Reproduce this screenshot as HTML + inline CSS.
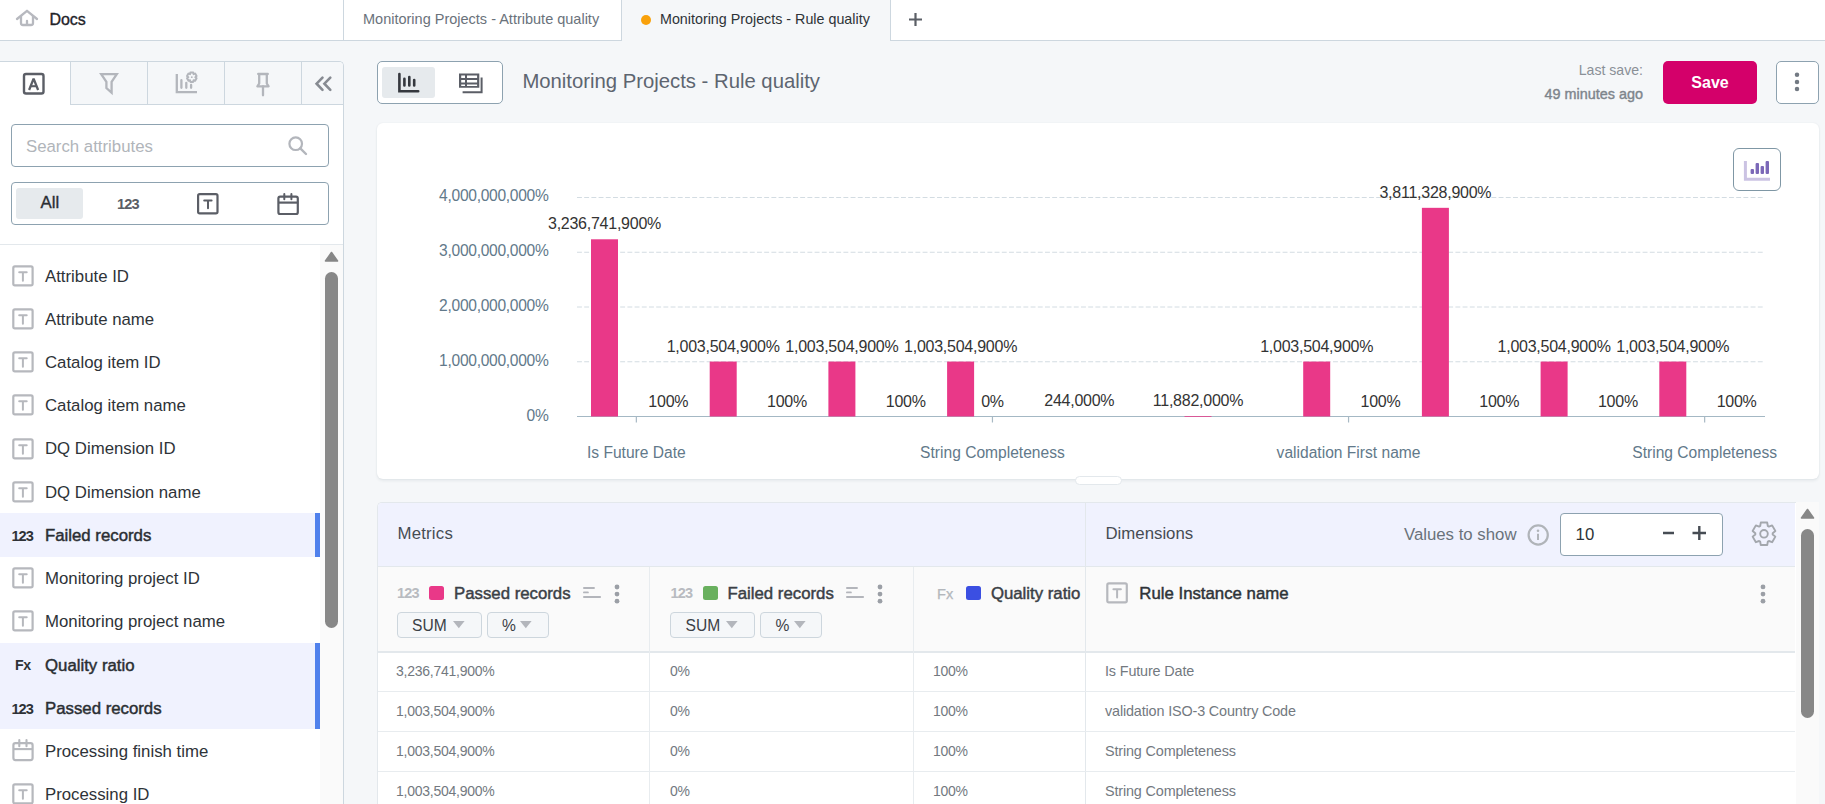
<!DOCTYPE html>
<html><head><meta charset="utf-8">
<style>
*{box-sizing:border-box;margin:0;padding:0}
html,body{width:1825px;height:804px;overflow:hidden;background:#f5f7f9;font-family:"Liberation Sans",sans-serif;position:relative}
.a{position:absolute}
.t{position:absolute;white-space:nowrap;line-height:1}
svg{position:absolute;overflow:visible}
</style></head><body>
<div class="a" style="left:0px;top:0px;width:1825px;height:41px;background:#fff;border-bottom:1px solid #cdd7df"></div>
<div class="a" style="left:343px;top:0px;width:1px;height:40px;background:#cdd7df"></div>
<div class="a" style="left:621px;top:0px;width:1px;height:40px;background:#cdd7df"></div>
<div class="a" style="left:622px;top:0px;width:268px;height:41px;background:#f5f7f9"></div>
<div class="a" style="left:890px;top:0px;width:1px;height:40px;background:#cdd7df"></div>
<svg style="left:0px;top:0px;" width="40" height="40" viewBox="0 0 40 40"><g fill="none" stroke="#b7b9bf" stroke-width="2.3" stroke-linecap="round" stroke-linejoin="round"><path d="M17 19 L27 10.8 L37 19"/><path d="M21 16.3 V23 a2 2 0 0 0 2 2 H31 a2 2 0 0 0 2 -2 V16.3"/><path d="M27 21 V24.6"/></g></svg>
<div class="t" style="left:49.4px;top:11.90px;font-size:16px;color:#1f2429;font-weight:normal;-webkit-text-stroke:0.35px #1f2429;">Docs</div>
<div class="t" style="left:363px;top:11.78px;font-size:14.5px;color:#6a727b;font-weight:normal;">Monitoring Projects - Attribute quality</div>
<div class="a" style="left:641px;top:14.6px;width:10px;height:10px;background:#f9a10b;border-radius:50%"></div>
<div class="t" style="left:660px;top:11.95px;font-size:14.3px;color:#2e3338;font-weight:normal;">Monitoring Projects - Rule quality</div>
<svg style="left:905px;top:9px;" width="21" height="21" viewBox="0 0 21 21"><path d="M10.5 4 V17 M4 10.5 H17" stroke="#5b5f66" stroke-width="2.2"/></svg>
<div class="a" style="left:0px;top:61px;width:344px;height:743px;background:#fff;border-top:1px solid #cdd7df;border-right:1px solid #cdd7df;border-top-right-radius:5px"></div>
<div class="a" style="left:70px;top:62px;width:273px;height:43px;background:#f5f7f9;border-left:1px solid #cdd7df;border-bottom:1px solid #cdd7df;border-top-right-radius:4px"></div>
<div class="a" style="left:147px;top:62px;width:1px;height:42px;background:#cdd7df"></div>
<div class="a" style="left:224px;top:62px;width:1px;height:42px;background:#cdd7df"></div>
<div class="a" style="left:301px;top:62px;width:1px;height:42px;background:#cdd7df"></div>
<svg style="left:0px;top:61px;" width="70" height="44" viewBox="0 0 70 44"><rect x="24" y="13" width="19.5" height="19.5" rx="2" fill="none" stroke="#5b5e66" stroke-width="2.4"/><path d="M29.1 29 L33.6 17.6 L38.1 29" fill="none" stroke="#5b5e66" stroke-width="2.3" stroke-linejoin="bevel"/><path d="M30.8 25.2 H36.4" stroke="#5b5e66" stroke-width="2.1"/></svg>
<svg style="left:70px;top:61px;" width="77" height="44" viewBox="0 0 77 44"><path d="M31.2 13.1 H46.8 L41.6 20.8 V31.6 L36.4 27 V20.8 Z" fill="none" stroke="#b3b6bc" stroke-width="2.3" stroke-linejoin="miter"/></svg>
<svg style="left:147px;top:61px;" width="77" height="44" viewBox="0 0 77 44"><g fill="none" stroke="#b3b6bc" stroke-width="2.3"><path d="M29.8 13 V31.2 H50"/><g stroke-linecap="round"><path d="M34.4 19.2 V26.8 M39.3 21.8 V26.8 M44.1 24 V26.8"/></g></g><polygon points="43.05,13.17 43.37,11.51 46.23,11.51 46.55,13.17 46.55,13.17 48.14,12.62 49.57,15.10 48.30,16.20 48.30,16.20 49.57,17.30 48.14,19.78 46.55,19.23 46.55,19.23 46.23,20.89 43.37,20.89 43.05,19.23 43.05,19.23 41.46,19.78 40.03,17.30 41.30,16.20 41.30,16.20 40.03,15.10 41.46,12.62 43.05,13.17" fill="none" stroke="#b3b6bc" stroke-width="2" stroke-linejoin="round"/><circle cx="44.8" cy="16.2" r="0.9" fill="#b3b6bc"/></svg>
<svg style="left:224px;top:61px;" width="77" height="44" viewBox="0 0 77 44"><g fill="none" stroke="#b3b6bc" stroke-width="2.3" stroke-linejoin="round" stroke-linecap="round"><path d="M34.2 13 H43.8 M35.2 13 V22.5 L33.4 25.3 H44.6 L42.8 22.5 V13"/><path d="M39 25.5 V34.3"/></g></svg>
<svg style="left:301px;top:61px;" width="42" height="44" viewBox="0 0 42 44"><g fill="none" stroke="#878b92" stroke-width="2.6" stroke-linecap="round" stroke-linejoin="miter"><path d="M21.5 16.6 L15.6 22.7 L21.5 28.8"/><path d="M29.3 16.6 L23.4 22.7 L29.3 28.8"/></g></svg>
<div class="a" style="left:11px;top:124px;width:318px;height:43px;background:#fff;border:1px solid #8da2b0;border-radius:4px"></div>
<div class="t" style="left:26px;top:138.52px;font-size:16.8px;color:#b1b5ba;font-weight:normal;">Search attributes</div>
<svg style="left:280px;top:130px;" width="36" height="32" viewBox="0 0 36 32"><circle cx="15.7" cy="13.7" r="6.3" fill="none" stroke="#b3b6bc" stroke-width="2.2"/><path d="M20.3 18.3 L26 24" stroke="#b3b6bc" stroke-width="2.4" stroke-linecap="round"/></svg>
<div class="a" style="left:11px;top:182px;width:318px;height:43px;background:#fff;border:1px solid #8da2b0;border-radius:4px"></div>
<div class="a" style="left:16px;top:188px;width:67px;height:31px;background:#e6eaed;border-radius:3px"></div>
<div class="t" style="left:40.5px;top:194.82px;font-size:16.8px;color:#2a2e33;font-weight:normal;-webkit-text-stroke:0.35px #2a2e33;">All</div>
<div class="t" style="left:117px;top:196.99px;font-size:14.6px;color:#5b5e66;font-weight:bold;letter-spacing:-0.9px;">123</div>
<svg style="left:197px;top:193px;" width="22" height="22" viewBox="0 0 22 22"><rect x="1.1" y="1.1" width="19.4" height="19.3" rx="1.6" fill="none" stroke="#5b5e66" stroke-width="2.2"/><path d="M7.2 7.6 H14.6 M11 7.6 V15.3" fill="none" stroke="#5b5e66" stroke-width="2" stroke-linecap="round"/></svg>
<svg style="left:277px;top:192px;" width="23" height="24" viewBox="0 0 23 24"><rect x="1.4" y="4.7" width="19.4" height="17.3" rx="1.8" fill="none" stroke="#5b5e66" stroke-width="2.2"/><path d="M1.5 10.6 H21.2" fill="none" stroke="#5b5e66" stroke-width="2.2"/><path d="M7.3 2 V7.2 M14.4 2 V7.2" fill="none" stroke="#5b5e66" stroke-width="2" stroke-linecap="round"/></svg>
<div class="a" style="left:0px;top:244px;width:343px;height:1px;background:#e3e8ec"></div>
<div class="a" style="left:320px;top:245px;width:23px;height:559px;background:#fafafa"></div>
<svg style="left:320px;top:245px;" width="23" height="30" viewBox="0 0 23 30"><path d="M11.5 7.5 L17.5 16 H5.5 Z" fill="#878787" stroke="#878787" stroke-width="1.6" stroke-linejoin="round"/></svg>
<div class="a" style="left:325px;top:272px;width:13px;height:356px;background:#878787;border-radius:6.5px"></div>
<svg style="left:12px;top:264px;" width="22" height="24" viewBox="0 0 22 24"><rect x="1.3" y="2.3" width="19.3" height="19.1" rx="1.6" fill="none" stroke="#b6b8bd" stroke-width="2.2"/><path d="M7.2 8.2 H14.7 M10.9 8.2 V16.7" fill="none" stroke="#b6b8bd" stroke-width="2" stroke-linecap="round"/></svg>
<div class="t" style="left:45px;top:268.62px;font-size:16.8px;color:#2e3338;font-weight:normal;">Attribute ID</div>
<svg style="left:12px;top:307px;" width="22" height="24" viewBox="0 0 22 24"><rect x="1.3" y="2.3" width="19.3" height="19.1" rx="1.6" fill="none" stroke="#b6b8bd" stroke-width="2.2"/><path d="M7.2 8.2 H14.7 M10.9 8.2 V16.7" fill="none" stroke="#b6b8bd" stroke-width="2" stroke-linecap="round"/></svg>
<div class="t" style="left:45px;top:311.82px;font-size:16.8px;color:#2e3338;font-weight:normal;">Attribute name</div>
<svg style="left:12px;top:350px;" width="22" height="24" viewBox="0 0 22 24"><rect x="1.3" y="2.3" width="19.3" height="19.1" rx="1.6" fill="none" stroke="#b6b8bd" stroke-width="2.2"/><path d="M7.2 8.2 H14.7 M10.9 8.2 V16.7" fill="none" stroke="#b6b8bd" stroke-width="2" stroke-linecap="round"/></svg>
<div class="t" style="left:45px;top:355.02px;font-size:16.8px;color:#2e3338;font-weight:normal;">Catalog item ID</div>
<svg style="left:12px;top:393px;" width="22" height="24" viewBox="0 0 22 24"><rect x="1.3" y="2.3" width="19.3" height="19.1" rx="1.6" fill="none" stroke="#b6b8bd" stroke-width="2.2"/><path d="M7.2 8.2 H14.7 M10.9 8.2 V16.7" fill="none" stroke="#b6b8bd" stroke-width="2" stroke-linecap="round"/></svg>
<div class="t" style="left:45px;top:398.22px;font-size:16.8px;color:#2e3338;font-weight:normal;">Catalog item name</div>
<svg style="left:12px;top:437px;" width="22" height="24" viewBox="0 0 22 24"><rect x="1.3" y="2.3" width="19.3" height="19.1" rx="1.6" fill="none" stroke="#b6b8bd" stroke-width="2.2"/><path d="M7.2 8.2 H14.7 M10.9 8.2 V16.7" fill="none" stroke="#b6b8bd" stroke-width="2" stroke-linecap="round"/></svg>
<div class="t" style="left:45px;top:441.42px;font-size:16.8px;color:#2e3338;font-weight:normal;">DQ Dimension ID</div>
<svg style="left:12px;top:480px;" width="22" height="24" viewBox="0 0 22 24"><rect x="1.3" y="2.3" width="19.3" height="19.1" rx="1.6" fill="none" stroke="#b6b8bd" stroke-width="2.2"/><path d="M7.2 8.2 H14.7 M10.9 8.2 V16.7" fill="none" stroke="#b6b8bd" stroke-width="2" stroke-linecap="round"/></svg>
<div class="t" style="left:45px;top:484.62px;font-size:16.8px;color:#2e3338;font-weight:normal;">DQ Dimension name</div>
<div class="a" style="left:0px;top:512.9px;width:315px;height:43.8px;background:#f0f2fe"></div>
<div class="a" style="left:315px;top:512.9px;width:5px;height:43.8px;background:#5081ec"></div>
<div class="t" style="left:11.4px;top:528.89px;font-size:14.6px;color:#2e3236;font-weight:bold;letter-spacing:-0.9px;">123</div>
<div class="t" style="left:45px;top:528.42px;font-size:16.8px;color:#2a2e33;font-weight:normal;-webkit-text-stroke:0.45px #2a2e33;">Failed records</div>
<svg style="left:12px;top:566px;" width="22" height="24" viewBox="0 0 22 24"><rect x="1.3" y="2.3" width="19.3" height="19.1" rx="1.6" fill="none" stroke="#b6b8bd" stroke-width="2.2"/><path d="M7.2 8.2 H14.7 M10.9 8.2 V16.7" fill="none" stroke="#b6b8bd" stroke-width="2" stroke-linecap="round"/></svg>
<div class="t" style="left:45px;top:571.02px;font-size:16.8px;color:#2e3338;font-weight:normal;">Monitoring project ID</div>
<svg style="left:12px;top:609px;" width="22" height="24" viewBox="0 0 22 24"><rect x="1.3" y="2.3" width="19.3" height="19.1" rx="1.6" fill="none" stroke="#b6b8bd" stroke-width="2.2"/><path d="M7.2 8.2 H14.7 M10.9 8.2 V16.7" fill="none" stroke="#b6b8bd" stroke-width="2" stroke-linecap="round"/></svg>
<div class="t" style="left:45px;top:614.22px;font-size:16.8px;color:#2e3338;font-weight:normal;">Monitoring project name</div>
<div class="a" style="left:0px;top:642.5px;width:315px;height:43.8px;background:#f0f2fe"></div>
<div class="a" style="left:315px;top:642.5px;width:5px;height:43.8px;background:#5081ec"></div>
<div class="t" style="left:15px;top:658.33px;font-size:14.2px;color:#2e3236;font-weight:bold;letter-spacing:-0.5px;">Fx</div>
<div class="t" style="left:45px;top:658.02px;font-size:16.8px;color:#2a2e33;font-weight:normal;-webkit-text-stroke:0.45px #2a2e33;">Quality ratio</div>
<div class="a" style="left:0px;top:685.6999999999999px;width:315px;height:43.8px;background:#f0f2fe"></div>
<div class="a" style="left:315px;top:685.6999999999999px;width:5px;height:43.8px;background:#5081ec"></div>
<div class="t" style="left:11.4px;top:701.69px;font-size:14.6px;color:#2e3236;font-weight:bold;letter-spacing:-0.9px;">123</div>
<div class="t" style="left:45px;top:701.22px;font-size:16.8px;color:#2a2e33;font-weight:normal;-webkit-text-stroke:0.45px #2a2e33;">Passed records</div>
<svg style="left:12px;top:738px;" width="22" height="24" viewBox="0 0 22 24"><rect x="1.4" y="5.2" width="19.2" height="16.9" rx="2" fill="none" stroke="#b6b8bd" stroke-width="2.2"/><path d="M1.5 11.1 H20.5" fill="none" stroke="#b6b8bd" stroke-width="2.1"/><path d="M7.3 2 V8.2 M14.5 2 V8.2" fill="none" stroke="#b6b8bd" stroke-width="2.1" stroke-linecap="round"/></svg>
<div class="t" style="left:45px;top:743.82px;font-size:16.8px;color:#2e3338;font-weight:normal;">Processing finish time</div>
<svg style="left:12px;top:782px;" width="22" height="24" viewBox="0 0 22 24"><rect x="1.3" y="2.3" width="19.3" height="19.1" rx="1.6" fill="none" stroke="#b6b8bd" stroke-width="2.2"/><path d="M7.2 8.2 H14.7 M10.9 8.2 V16.7" fill="none" stroke="#b6b8bd" stroke-width="2" stroke-linecap="round"/></svg>
<div class="t" style="left:45px;top:787.02px;font-size:16.8px;color:#2e3338;font-weight:normal;">Processing ID</div>
<div class="a" style="left:377px;top:61px;width:126px;height:43px;background:#fff;border:1px solid #8da2b0;border-radius:5px"></div>
<div class="a" style="left:382px;top:67px;width:53px;height:31px;background:#e6eaed;border-radius:3px"></div>
<svg style="left:395px;top:70px;" width="28" height="26" viewBox="0 0 28 26"><g fill="none" stroke="#35383e" stroke-width="2.6" stroke-linecap="round"><path d="M4.4 4 V21.2 H23.2"/><path d="M9.4 8.8 V15.5 M14.3 7 V15.5 M19.2 10 V15.5"/></g></svg>
<svg style="left:455px;top:70px;" width="32" height="26" viewBox="0 0 32 26"><g fill="#5b5e66"><path d="M4 3.5 H24.3 V17.8 H4 Z M6.2 5.4 V7.9 H10 V5.4 Z M12 5.4 V7.9 H22.1 V5.4 Z M6.2 9.9 V12.4 H10 V9.9 Z M12 9.9 V12.4 H22.1 V9.9 Z M6.2 14.4 V15.9 H10 V14.4 Z M12 14.4 V15.9 H22.1 V14.4 Z" fill-rule="evenodd"/><path d="M25.6 7.6 H27.6 V23.3 H7.6 V21.3 H25.6 Z"/></g></svg>
<div class="t" style="left:522.4px;top:70.64px;font-size:20.3px;color:#5d6570;font-weight:normal;">Monitoring Projects - Rule quality</div>
<div class="t" style="right:182px;top:62.72px;font-size:14.1px;color:#8a9097;font-weight:normal;">Last save:</div>
<div class="t" style="right:182px;top:87.16px;font-size:14.4px;color:#7e858c;font-weight:normal;-webkit-text-stroke:0.4px #7e858c;">49 minutes ago</div>
<div class="a" style="left:1663px;top:61px;width:94px;height:43px;background:#d4006a;border-radius:5px"></div>
<div class="t" style="left:1710px;transform:translateX(-50%);top:75.30px;font-size:16px;color:#fff;font-weight:bold;">Save</div>
<div class="a" style="left:1776px;top:61px;width:43px;height:43px;background:#fff;border:1px solid #8da2b0;border-radius:5px"></div>
<svg style="left:0;top:0" width="1825" height="804"><circle cx="1797" cy="74.7" r="2.25" fill="#737a83"/><circle cx="1797" cy="81.9" r="2.25" fill="#737a83"/><circle cx="1797" cy="89.1" r="2.25" fill="#737a83"/></svg>
<div class="a" style="left:377px;top:123px;width:1442px;height:356px;background:#fff;border-radius:6px;box-shadow:0 2px 3px rgba(31,53,74,.07), 0 0 2px rgba(31,53,74,.07)"></div>
<div class="a" style="left:1733px;top:148px;width:48px;height:43px;background:#fff;border:1.5px solid #7f97a5;border-radius:6px"></div>
<svg style="left:1733px;top:148px;" width="48" height="43" viewBox="0 0 48 43"><path d="M12.4 13 V31.3 H37" fill="none" stroke="#cbc3e3" stroke-width="3"/><g fill="#7b68b8"><rect x="17.6" y="21" width="3.4" height="5.1" rx="1"/><rect x="22.6" y="15" width="3.4" height="11.1" rx="1"/><rect x="27.6" y="18" width="3.4" height="8.1" rx="1"/><rect x="32.6" y="13" width="3.4" height="13.1" rx="1"/></g></svg>
<svg style="left:0;top:0" width="1825" height="804" viewBox="0 0 1825 804"><path d="M577 361.75 H1764" stroke="#d3dce2" stroke-width="1" stroke-dasharray="4.9 2.3"/><path d="M577 307.00 H1764" stroke="#d3dce2" stroke-width="1" stroke-dasharray="4.9 2.3"/><path d="M577 252.25 H1764" stroke="#d3dce2" stroke-width="1" stroke-dasharray="4.9 2.3"/><path d="M577 197.50 H1764" stroke="#d3dce2" stroke-width="1" stroke-dasharray="4.9 2.3"/></svg>
<div class="t" style="right:1276.5px;top:408.24px;font-size:15.6px;color:#62798a;font-weight:normal;letter-spacing:-0.3px;">0%</div>
<div class="t" style="right:1276.5px;top:352.69px;font-size:15.6px;color:#62798a;font-weight:normal;letter-spacing:-0.3px;">1,000,000,000%</div>
<div class="t" style="right:1276.5px;top:297.94px;font-size:15.6px;color:#62798a;font-weight:normal;letter-spacing:-0.3px;">2,000,000,000%</div>
<div class="t" style="right:1276.5px;top:243.19px;font-size:15.6px;color:#62798a;font-weight:normal;letter-spacing:-0.3px;">3,000,000,000%</div>
<div class="t" style="right:1276.5px;top:188.44px;font-size:15.6px;color:#62798a;font-weight:normal;letter-spacing:-0.3px;">4,000,000,000%</div>
<div class="t" style="left:604.5px;transform:translateX(-50%);top:216.29px;font-size:16px;color:#333;font-weight:normal;letter-spacing:-0.25px;">3,236,741,900%</div>
<div class="t" style="left:668.3px;transform:translateX(-50%);top:393.60px;font-size:16px;color:#333;font-weight:normal;letter-spacing:-0.25px;">100%</div>
<div class="t" style="left:723.2px;transform:translateX(-50%);top:338.56px;font-size:16px;color:#333;font-weight:normal;letter-spacing:-0.25px;">1,003,504,900%</div>
<div class="t" style="left:787.0px;transform:translateX(-50%);top:393.60px;font-size:16px;color:#333;font-weight:normal;letter-spacing:-0.25px;">100%</div>
<div class="t" style="left:841.9px;transform:translateX(-50%);top:338.56px;font-size:16px;color:#333;font-weight:normal;letter-spacing:-0.25px;">1,003,504,900%</div>
<div class="t" style="left:905.7px;transform:translateX(-50%);top:393.60px;font-size:16px;color:#333;font-weight:normal;letter-spacing:-0.25px;">100%</div>
<div class="t" style="left:960.6px;transform:translateX(-50%);top:338.56px;font-size:16px;color:#333;font-weight:normal;letter-spacing:-0.25px;">1,003,504,900%</div>
<div class="t" style="left:992.5px;transform:translateX(-50%);top:393.60px;font-size:16px;color:#333;font-weight:normal;letter-spacing:-0.25px;">0%</div>
<div class="t" style="left:1079.3px;transform:translateX(-50%);top:392.80px;font-size:16px;color:#333;font-weight:normal;letter-spacing:-0.25px;">244,000%</div>
<div class="t" style="left:1198.0px;transform:translateX(-50%);top:392.80px;font-size:16px;color:#333;font-weight:normal;letter-spacing:-0.25px;">11,882,000%</div>
<div class="t" style="left:1316.7px;transform:translateX(-50%);top:338.56px;font-size:16px;color:#333;font-weight:normal;letter-spacing:-0.25px;">1,003,504,900%</div>
<div class="t" style="left:1380.5px;transform:translateX(-50%);top:393.60px;font-size:16px;color:#333;font-weight:normal;letter-spacing:-0.25px;">100%</div>
<div class="t" style="left:1435.4px;transform:translateX(-50%);top:184.83px;font-size:16px;color:#333;font-weight:normal;letter-spacing:-0.25px;">3,811,328,900%</div>
<div class="t" style="left:1499.2px;transform:translateX(-50%);top:393.60px;font-size:16px;color:#333;font-weight:normal;letter-spacing:-0.25px;">100%</div>
<div class="t" style="left:1554.1px;transform:translateX(-50%);top:338.56px;font-size:16px;color:#333;font-weight:normal;letter-spacing:-0.25px;">1,003,504,900%</div>
<div class="t" style="left:1617.9px;transform:translateX(-50%);top:393.60px;font-size:16px;color:#333;font-weight:normal;letter-spacing:-0.25px;">100%</div>
<div class="t" style="left:1672.8px;transform:translateX(-50%);top:338.56px;font-size:16px;color:#333;font-weight:normal;letter-spacing:-0.25px;">1,003,504,900%</div>
<div class="t" style="left:1736.6px;transform:translateX(-50%);top:393.60px;font-size:16px;color:#333;font-weight:normal;letter-spacing:-0.25px;">100%</div>
<svg style="left:0;top:0" width="1825" height="804" viewBox="0 0 1825 804"><path d="M577 416.5 H1765" stroke="#a4b8c4" stroke-width="1.1"/><rect x="591.00" y="239.29" width="27" height="177.21" fill="#e93888"/><rect x="709.70" y="361.56" width="27" height="54.94" fill="#e93888"/><rect x="828.40" y="361.56" width="27" height="54.94" fill="#e93888"/><rect x="947.10" y="361.56" width="27" height="54.94" fill="#e93888"/><rect x="1184.50" y="416" width="27" height="1" fill="#e93888" opacity="0.75"/><rect x="1303.20" y="361.56" width="27" height="54.94" fill="#e93888"/><rect x="1421.90" y="207.83" width="27" height="208.67" fill="#e93888"/><rect x="1540.60" y="361.56" width="27" height="54.94" fill="#e93888"/><rect x="1659.30" y="361.56" width="27" height="54.94" fill="#e93888"/><path d="M636.35 416.5 V422.5" stroke="#a8b9c4" stroke-width="1.2"/><path d="M992.45 416.5 V422.5" stroke="#a8b9c4" stroke-width="1.2"/><path d="M1348.55 416.5 V422.5" stroke="#a8b9c4" stroke-width="1.2"/><path d="M1704.65 416.5 V422.5" stroke="#a8b9c4" stroke-width="1.2"/></svg>
<div class="t" style="left:636.35px;transform:translateX(-50%);top:444.94px;font-size:15.6px;color:#62798a;font-weight:normal;">Is Future Date</div>
<div class="t" style="left:992.45px;transform:translateX(-50%);top:444.94px;font-size:15.6px;color:#62798a;font-weight:normal;">String Completeness</div>
<div class="t" style="left:1348.55px;transform:translateX(-50%);top:444.94px;font-size:15.6px;color:#62798a;font-weight:normal;">validation First name</div>
<div class="t" style="left:1704.65px;transform:translateX(-50%);top:444.94px;font-size:15.6px;color:#62798a;font-weight:normal;">String Completeness</div>
<div class="a" style="left:1075px;top:476px;width:47px;height:9px;background:#fff;border:1px solid #e3e8ec;border-radius:5px"></div>
<div class="a" style="left:377px;top:502px;width:1419px;height:302px;background:#fff;border-top:1px solid #e3e8ec;border-left:1px solid #e3e8ec;border-top-left-radius:5px;overflow:hidden"></div>
<div class="a" style="left:378px;top:503px;width:1417px;height:63px;background:#f0f2fe;border-top-left-radius:4px"></div>
<div class="a" style="left:378px;top:566px;width:1417px;height:1px;background:#e3e8ec"></div>
<div class="a" style="left:378px;top:567px;width:1417px;height:84px;background:#fafafa"></div>
<div class="a" style="left:1085px;top:503px;width:1px;height:301px;background:#e3e8ec"></div>
<div class="a" style="left:378px;top:651px;width:1417px;height:2px;background:#e3e8ec"></div>
<div class="a" style="left:649px;top:567px;width:1px;height:237px;background:#e8ecef"></div>
<div class="a" style="left:913px;top:567px;width:1px;height:237px;background:#e8ecef"></div>
<div class="a" style="left:378px;top:691px;width:1417px;height:1px;background:#e8ecef"></div>
<div class="a" style="left:378px;top:731px;width:1417px;height:1px;background:#e8ecef"></div>
<div class="a" style="left:378px;top:771px;width:1417px;height:1px;background:#e8ecef"></div>
<div class="t" style="left:397.5px;top:525.92px;font-size:16.8px;color:#464c53;font-weight:normal;letter-spacing:0.2px;">Metrics</div>
<div class="t" style="left:1105.5px;top:525.92px;font-size:16.8px;color:#464c53;font-weight:normal;">Dimensions</div>
<div class="t" style="right:308.5px;top:526.52px;font-size:16.8px;color:#6a727b;font-weight:normal;">Values to show</div>
<svg style="left:1527px;top:524px;" width="22" height="22" viewBox="0 0 22 22"><circle cx="11.2" cy="11" r="9.6" fill="none" stroke="#b0b4b9" stroke-width="2.2"/><circle cx="11" cy="6.8" r="1.3" fill="#b0b4b9"/><path d="M11 9.8 V16" stroke="#b0b4b9" stroke-width="2"/></svg>
<div class="a" style="left:1560px;top:513px;width:163px;height:43px;background:#fff;border:1px solid #8da2b0;border-radius:4px"></div>
<div class="t" style="left:1575.6px;top:526.52px;font-size:16.8px;color:#2e3338;font-weight:normal;">10</div>
<svg style="left:1655px;top:520px;" width="60" height="26" viewBox="0 0 60 26"><path d="M8 13 H19 M37.5 13 H51 M44.3 6 V20" stroke="#464c53" stroke-width="2.4"/></svg>
<svg style="left:1740px;top:510px;" width="50" height="50" viewBox="0 0 50 50"><polygon points="20.19,15.98 20.78,12.55 27.22,12.55 27.81,15.98 28.86,16.59 32.13,15.38 35.35,20.97 32.68,23.19 32.68,24.41 35.35,26.63 32.13,32.22 28.86,31.01 27.81,31.62 27.22,35.05 20.78,35.05 20.19,31.62 19.14,31.01 15.87,32.22 12.65,26.63 15.32,24.41 15.32,23.19 12.65,20.97 15.87,15.38 19.14,16.59" fill="none" stroke="#a3a7ad" stroke-width="1.9" stroke-linejoin="round"/><circle cx="24" cy="23.8" r="3.8" fill="none" stroke="#a3a7ad" stroke-width="1.9"/></svg>
<div class="t" style="left:397px;top:586.07px;font-size:14.5px;color:#b8bbc0;font-weight:bold;letter-spacing:-0.85px;">123</div>
<div class="a" style="left:429px;top:586px;width:15px;height:14px;background:#e93888;border-radius:2.5px"></div>
<div class="t" style="left:454px;top:585.92px;font-size:16.8px;color:#3b4046;font-weight:normal;-webkit-text-stroke:0.45px #3b4046;">Passed records</div>
<svg style="left:583px;top:586px;" width="20" height="13" viewBox="0 0 20 13"><path d="M0.95 2 H11 M0.95 6.4 H4.9 M0.95 11 H17.1" stroke="#b3b5bb" stroke-width="1.9" stroke-linecap="round"/></svg>
<svg style="left:0;top:0" width="1825" height="804"><circle cx="617" cy="587" r="2.4" fill="#9b9fa6"/><circle cx="617" cy="594.1" r="2.4" fill="#9b9fa6"/><circle cx="617" cy="601.2" r="2.4" fill="#9b9fa6"/></svg>
<div class="a" style="left:396.5px;top:612px;width:85px;height:26px;background:#f5f7f9;border:1px solid #cdd6dd;border-radius:4px"></div>
<div class="t" style="left:412px;top:617.94px;font-size:15.6px;color:#3b4046;font-weight:normal;">SUM</div>
<svg style="left:452.5px;top:621.2px;" width="13" height="8" viewBox="0 0 13 8"><path d="M0 0 H11.6 L5.8 7.3 Z" fill="#b3b6bc"/></svg>
<div class="a" style="left:486.5px;top:612px;width:62px;height:26px;background:#f5f7f9;border:1px solid #cdd6dd;border-radius:4px"></div>
<div class="t" style="left:502px;top:617.94px;font-size:15.6px;color:#3b4046;font-weight:normal;">%</div>
<svg style="left:520px;top:621.2px;" width="13" height="8" viewBox="0 0 13 8"><path d="M0 0 H11.6 L5.8 7.3 Z" fill="#b3b6bc"/></svg>
<div class="t" style="left:670.5px;top:586.07px;font-size:14.5px;color:#b8bbc0;font-weight:bold;letter-spacing:-0.85px;">123</div>
<div class="a" style="left:702.5px;top:586px;width:15px;height:14px;background:#69b05e;border-radius:2.5px"></div>
<div class="t" style="left:727.5px;top:585.92px;font-size:16.8px;color:#3b4046;font-weight:normal;-webkit-text-stroke:0.45px #3b4046;">Failed records</div>
<svg style="left:846px;top:586px;" width="20" height="13" viewBox="0 0 20 13"><path d="M0.95 2 H11 M0.95 6.4 H4.9 M0.95 11 H17.1" stroke="#b3b5bb" stroke-width="1.9" stroke-linecap="round"/></svg>
<svg style="left:0;top:0" width="1825" height="804"><circle cx="880" cy="587" r="2.4" fill="#9b9fa6"/><circle cx="880" cy="594.1" r="2.4" fill="#9b9fa6"/><circle cx="880" cy="601.2" r="2.4" fill="#9b9fa6"/></svg>
<div class="a" style="left:670.0px;top:612px;width:85px;height:26px;background:#f5f7f9;border:1px solid #cdd6dd;border-radius:4px"></div>
<div class="t" style="left:685.5px;top:617.94px;font-size:15.6px;color:#3b4046;font-weight:normal;">SUM</div>
<svg style="left:726.0px;top:621.2px;" width="13" height="8" viewBox="0 0 13 8"><path d="M0 0 H11.6 L5.8 7.3 Z" fill="#b3b6bc"/></svg>
<div class="a" style="left:760.0px;top:612px;width:62px;height:26px;background:#f5f7f9;border:1px solid #cdd6dd;border-radius:4px"></div>
<div class="t" style="left:775.5px;top:617.94px;font-size:15.6px;color:#3b4046;font-weight:normal;">%</div>
<svg style="left:793.5px;top:621.2px;" width="13" height="8" viewBox="0 0 13 8"><path d="M0 0 H11.6 L5.8 7.3 Z" fill="#b3b6bc"/></svg>
<div class="t" style="left:937px;top:586.59px;font-size:14.6px;color:#b3b7bc;font-weight:normal;-webkit-text-stroke:0.25px #b3b7bc;">Fx</div>
<div class="a" style="left:966px;top:586px;width:15px;height:14px;background:#3b4fe2;border-radius:2.5px"></div>
<div class="a" style="left:990px;top:570px;width:94px;height:40px;overflow:hidden">
<div class="t" style="left:0.9px;top:15.92px;font-size:16.8px;color:#3b4046;font-weight:normal;-webkit-text-stroke:0.45px #3b4046;">Quality ratio</div>
</div>
<svg style="left:1106px;top:582px;" width="22" height="22" viewBox="0 0 22 22"><rect x="1.3" y="1.4" width="19.5" height="19" rx="1.6" fill="none" stroke="#b6b8bd" stroke-width="2.2"/><path d="M7.4 7.3 H14.9 M11.1 7.3 V15.6" fill="none" stroke="#b6b8bd" stroke-width="2" stroke-linecap="round"/></svg>
<div class="t" style="left:1139.3px;top:586.02px;font-size:16.8px;color:#2e3338;font-weight:normal;-webkit-text-stroke:0.45px #2e3338;">Rule Instance name</div>
<svg style="left:0;top:0" width="1825" height="804"><circle cx="1763" cy="586.9" r="2.4" fill="#9b9fa6"/><circle cx="1763" cy="594.05" r="2.4" fill="#9b9fa6"/><circle cx="1763" cy="601.2" r="2.4" fill="#9b9fa6"/></svg>
<div class="t" style="left:396px;top:664.20px;font-size:14px;color:#73797f;font-weight:normal;letter-spacing:-0.25px;">3,236,741,900%</div>
<div class="t" style="left:670px;top:664.20px;font-size:14px;color:#73797f;font-weight:normal;letter-spacing:-0.25px;">0%</div>
<div class="t" style="left:933px;top:664.20px;font-size:14px;color:#73797f;font-weight:normal;letter-spacing:-0.25px;">100%</div>
<div class="t" style="left:1105px;top:663.86px;font-size:14.4px;color:#73797f;font-weight:normal;letter-spacing:-0.15px;">Is Future Date</div>
<div class="t" style="left:396px;top:704.20px;font-size:14px;color:#73797f;font-weight:normal;letter-spacing:-0.25px;">1,003,504,900%</div>
<div class="t" style="left:670px;top:704.20px;font-size:14px;color:#73797f;font-weight:normal;letter-spacing:-0.25px;">0%</div>
<div class="t" style="left:933px;top:704.20px;font-size:14px;color:#73797f;font-weight:normal;letter-spacing:-0.25px;">100%</div>
<div class="t" style="left:1105px;top:703.86px;font-size:14.4px;color:#73797f;font-weight:normal;letter-spacing:-0.15px;">validation ISO-3 Country Code</div>
<div class="t" style="left:396px;top:744.20px;font-size:14px;color:#73797f;font-weight:normal;letter-spacing:-0.25px;">1,003,504,900%</div>
<div class="t" style="left:670px;top:744.20px;font-size:14px;color:#73797f;font-weight:normal;letter-spacing:-0.25px;">0%</div>
<div class="t" style="left:933px;top:744.20px;font-size:14px;color:#73797f;font-weight:normal;letter-spacing:-0.25px;">100%</div>
<div class="t" style="left:1105px;top:743.86px;font-size:14.4px;color:#73797f;font-weight:normal;letter-spacing:-0.15px;">String Completeness</div>
<div class="t" style="left:396px;top:783.90px;font-size:14px;color:#73797f;font-weight:normal;letter-spacing:-0.25px;">1,003,504,900%</div>
<div class="t" style="left:670px;top:783.90px;font-size:14px;color:#73797f;font-weight:normal;letter-spacing:-0.25px;">0%</div>
<div class="t" style="left:933px;top:783.90px;font-size:14px;color:#73797f;font-weight:normal;letter-spacing:-0.25px;">100%</div>
<div class="t" style="left:1105px;top:783.56px;font-size:14.4px;color:#73797f;font-weight:normal;letter-spacing:-0.15px;">String Completeness</div>
<div class="a" style="left:1796px;top:502px;width:23px;height:302px;background:#fafafa"></div>
<svg style="left:1796px;top:502px;" width="23" height="24" viewBox="0 0 23 24"><path d="M11.5 7.5 L17.5 16 H5.5 Z" fill="#878787" stroke="#878787" stroke-width="1.6" stroke-linejoin="round"/></svg>
<div class="a" style="left:1801px;top:529px;width:13px;height:189px;background:#878787;border-radius:6.5px"></div>
</body></html>
